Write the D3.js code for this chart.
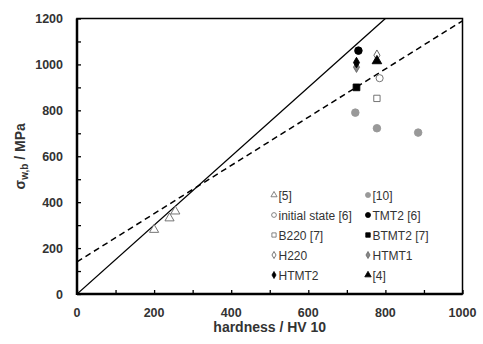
<!DOCTYPE html>
<html>
<head>
<meta charset="utf-8">
<script src="https://cdn.jsdelivr.net/npm/d3@7"></script>
<style>
  body { margin: 0; background: #fff; }
  text { font-family: "Liberation Sans", Arial, sans-serif; }
</style>
</head>
<body>
<svg id="chart" width="483" height="344"></svg>
<script>
// series, [hardness, sigma]
const ref5 = [[200, 280], [240, 330], [255, 360]]
const ref10 = [[722, 790], [778, 722], [885, 703]]
const initial6 = [[785, 940]]
const tmt2 = [[730, 1060]]
const b220 = [[778, 852]]
const btmt2 = [[725, 900]]
const h220 = [[778, 1040]]
const htmt1 = [[725, 988]]
const htmt2 = [[725, 1008]]
const ref4 = [[778, 1015]]

// fit lines
const solidLine = [[0, 0], [800, 1200]]
const dashedLine = [[0, 140], [1000, 1190]]

const xTicks = [0, 200, 400, 600, 800, 1000]
const yTicks = [0, 200, 400, 600, 800, 1000, 1200]

const svg = d3.select('#chart')
const m = { left: 77, right: 20.5, top: 18.5, bottom: 50 }
const W = 483
const H = 344

const x = d3.scaleLinear().domain([0, 1000]).range([m.left, W - m.right])
const y = d3.scaleLinear().domain([0, 1200]).range([H - m.bottom, m.top])

// clip
svg.append('clipPath').attr('id', 'clip')
  .append('rect')
  .attr('x', x(0)).attr('y', y(1200))
  .attr('width', x(1000) - x(0)).attr('height', y(0) - y(1200))

const line = d3.line().x(d => x(d[0])).y(d => y(d[1]))

svg.append('path')
  .attr('d', line(solidLine))
  .attr('clip-path', 'url(#clip)')
  .attr('fill', 'none')
  .attr('stroke', '#000')
  .attr('stroke-width', 1.3)

svg.append('path')
  .attr('d', line(dashedLine))
  .attr('clip-path', 'url(#clip)')
  .attr('fill', 'none')
  .attr('stroke', '#000')
  .attr('stroke-width', 1.5)
  .attr('stroke-dasharray', '6,4')

// axes: inward ticks every 100
const xAxis = d3.axisBottom(x).tickValues(d3.range(0, 1001, 100)).tickSize(-4).tickFormat('')
const yAxis = d3.axisLeft(y).tickValues(d3.range(0, 1201, 100)).tickSize(-4).tickFormat('')

svg.append('g').attr('transform', `translate(0,${y(0)})`).call(xAxis)
svg.append('g').attr('transform', `translate(${x(0)},0)`).call(yAxis)
svg.selectAll('.domain').remove()
svg.selectAll('.tick line').attr('stroke', '#000').attr('stroke-width', 1.3)

// frame
svg.append('rect')
  .attr('x', x(0)).attr('y', y(1200))
  .attr('width', x(1000) - x(0)).attr('height', y(0) - y(1200))
  .attr('fill', 'none')
  .attr('stroke', '#000')
  .attr('stroke-width', 1.5)
svg.append('line')
  .attr('x1', x(0)).attr('x2', x(1000)).attr('y1', y(0)).attr('y2', y(0))
  .attr('stroke', '#000').attr('stroke-width', 2.5)
svg.append('line')
  .attr('x1', x(0)).attr('x2', x(0)).attr('y1', y(0) + 1).attr('y2', y(1200))
  .attr('stroke', '#000').attr('stroke-width', 2.5)

// tick labels
svg.append('g').selectAll('text').data(xTicks).enter().append('text')
  .attr('x', d => x(d))
  .attr('y', y(0) + 23)
  .attr('text-anchor', 'middle')
  .attr('font-size', 12.5)
  .attr('font-weight', 'bold')
  .attr('fill', '#333')
  .text(d => d)

svg.append('g').selectAll('text').data(yTicks).enter().append('text')
  .attr('x', x(0) - 14)
  .attr('y', d => y(d) + 4.5)
  .attr('text-anchor', 'end')
  .attr('font-size', 12.5)
  .attr('font-weight', 'bold')
  .attr('fill', '#333')
  .text(d => d)

// axis titles
svg.append('text')
  .attr('x', (x(0) + x(1000)) / 2)
  .attr('y', y(0) + 38)
  .attr('text-anchor', 'middle')
  .attr('font-size', 14)
  .attr('font-weight', 'bold')
  .attr('fill', '#333')
  .text('hardness / HV 10')

const yt = svg.append('text')
  .attr('transform', `translate(25,${(y(0) + y(1200)) / 2}) rotate(-90)`)
  .attr('text-anchor', 'middle')
  .attr('font-size', 14)
  .attr('font-weight', 'bold')
  .attr('fill', '#333')
yt.append('tspan').text('σ')
yt.append('tspan').attr('font-size', 10).attr('dy', 3).text('w,b')
yt.append('tspan').attr('dy', -3).text(' / MPa')

// markers
const sym = {
  circle: d3.symbolCircle,
  square: d3.symbolSquare,
  diamond: d3.symbolDiamond,
  triangle: d3.symbolTriangle
}

const series = [
  { name: '[5]', data: ref5, shape: 'triangle', fill: '#fff', stroke: '#666', size: 36 },
  { name: '[10]', data: ref10, shape: 'circle', fill: '#999', stroke: '#999', size: 45 },
  { name: 'initial state [6]', data: initial6, shape: 'circle', fill: '#fff', stroke: '#666', size: 40 },
  { name: 'TMT2 [6]', data: tmt2, shape: 'circle', fill: '#000', stroke: '#000', size: 45 },
  { name: 'B220 [7]', data: b220, shape: 'square', fill: '#fff', stroke: '#666', size: 40 },
  { name: 'BTMT2 [7]', data: btmt2, shape: 'square', fill: '#000', stroke: '#000', size: 45 },
  { name: 'H220', data: h220, shape: 'diamond', fill: '#fff', stroke: '#555', size: 32 },
  { name: 'HTMT1', data: htmt1, shape: 'diamond', fill: '#888', stroke: '#666', size: 32 },
  { name: 'HTMT2', data: htmt2, shape: 'diamond', fill: '#000', stroke: '#000', size: 32 },
  { name: '[4]', data: ref4, shape: 'triangle', fill: '#000', stroke: '#000', size: 40 }
]

series.forEach(s => {
  svg.append('g').selectAll('path').data(s.data).enter().append('path')
    .attr('transform', d => `translate(${x(d[0])},${y(d[1])})`)
    .attr('d', d3.symbol().type(sym[s.shape]).size(s.size))
    .attr('fill', s.fill)
    .attr('stroke', s.stroke)
    .attr('stroke-width', 0.9)
})

// legend
const lg = svg.append('g')
series.forEach((s, i) => {
  const col = i % 2
  const row = Math.floor(i / 2)
  const lx = col === 0 ? 274 : 368
  const ly = 195 + row * 20
  lg.append('path')
    .attr('transform', `translate(${lx},${ly})`)
    .attr('d', d3.symbol().type(sym[s.shape]).size(s.size * 0.45))
    .attr('fill', s.fill)
    .attr('stroke', s.stroke)
    .attr('stroke-width', 0.8)
  lg.append('text')
    .attr('x', lx + 4.5)
    .attr('y', ly + 4.5)
    .attr('font-size', 12)
    .attr('fill', '#333')
    .text(s.name)
})
</script>
</body>
</html>
